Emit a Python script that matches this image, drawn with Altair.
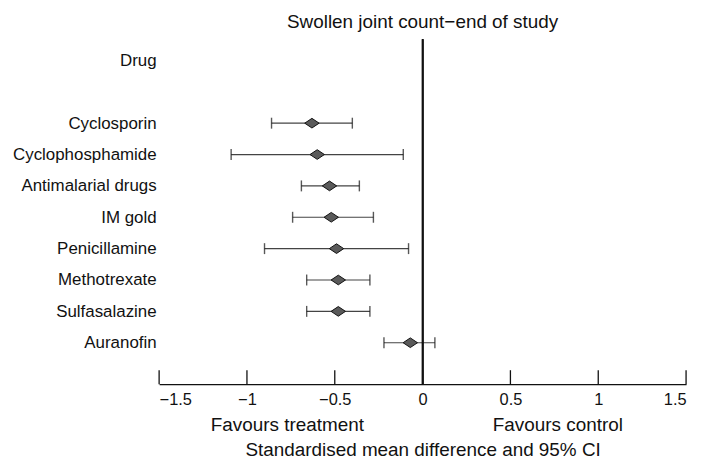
import altair as alt
import pandas as pd

# ---- data ----
drugs = ["Cyclosporin", "Cyclophosphamide", "Antimalarial drugs", "IM gold",
         "Penicillamine", "Methotrexate", "Sulfasalazine", "Auranofin"]
smd = [-0.63, -0.60, -0.53, -0.52, -0.49, -0.48, -0.48, -0.07]
ci_low = [-0.86, -1.09, -0.69, -0.74, -0.90, -0.66, -0.66, -0.22]
ci_high = [-0.40, -0.11, -0.36, -0.28, -0.08, -0.30, -0.30, 0.07]
header = "Drug"
spacer = " "
x_ticks = [-1.5, -1, -0.5, 0, 0.5, 1, 1.5]
favour_text = ["Favours treatment", "Favours control"]
favour_pos = [-0.77, 0.77]
chart_title = "Swollen joint count\u2212end of study"
x_title = "Standardised mean difference and 95% CI"

# ---- layout / style ----
W, H = 530, 347
FONT = "Liberation Sans"
INK = "#111111"

df = pd.DataFrame({"drug": drugs, "smd": smd, "lo": ci_low, "hi": ci_high})
ticks_df = pd.DataFrame({"t": x_ticks})
fav_df = pd.DataFrame({"label": favour_text, "pos": favour_pos})
row_domain = [header, spacer] + drugs

x_scale = alt.Scale(domain=[-1.5, 1.5], nice=False, zero=False)
y_scale = alt.Scale(type="point", domain=row_domain, padding=1.0, align=0.34)

x_axis = alt.Axis(values=x_ticks, format="~g", title=x_title, ticks=False, grid=False,
                  domainColor=INK, domainWidth=1.3, labelFont=FONT, labelFontSize=16.5,
                  labelColor=INK, labelPadding=7, titleFont=FONT, titleFontSize=19,
                  titleFontWeight="normal", titleColor=INK, titlePadding=33)
y_axis = alt.Axis(title=None, domain=False, ticks=False, grid=False, labelFont=FONT,
                  labelFontSize=17, labelColor=INK, labelPadding=3, labelAlign="right",
                  labelLimit=300)

y_enc = alt.Y("drug:N", scale=y_scale, axis=y_axis, sort=row_domain)

ci = alt.Chart(df).mark_rule(color="#444444", strokeWidth=1.2).encode(
    x=alt.X("lo:Q", scale=x_scale, axis=x_axis), x2="hi:Q", y=y_enc)

cap_lo = alt.Chart(df).mark_tick(size=11, thickness=1.4, color=INK).encode(
    x=alt.X("lo:Q", scale=x_scale, axis=x_axis), y=y_enc)
cap_hi = alt.Chart(df).mark_tick(size=11, thickness=1.4, color=INK).encode(
    x=alt.X("hi:Q", scale=x_scale, axis=x_axis), y=y_enc)

diamonds = alt.Chart(df).mark_point(
    shape="M-1,0L0,-0.67L1,0L0,0.67Z", size=210, filled=True, fill="#5a5a5a",
    stroke=INK, strokeWidth=1, opacity=1).encode(
    x=alt.X("smd:Q", scale=x_scale, axis=x_axis), y=y_enc)

zero_line = alt.Chart(df).mark_rule(color=INK, strokeWidth=1.3).encode(
    x=alt.XDatum(0, scale=x_scale, axis=x_axis))

axis_ticks = alt.Chart(ticks_df).mark_rule(color=INK, strokeWidth=1.3).encode(
    x=alt.X("t:Q", scale=x_scale, axis=x_axis),
    y=alt.value(H - 14), y2=alt.value(H))

favours = alt.Chart(fav_df).mark_text(font=FONT, fontSize=19, color=INK,
                                      align="center", baseline="middle").encode(
    x=alt.X("pos:Q", scale=x_scale, axis=x_axis),
    y=alt.value(H + 41), text="label:N")

chart = alt.layer(ci, cap_lo, cap_hi, diamonds, zero_line, axis_ticks, favours).properties(
    width=W, height=H,
    title=alt.TitleParams(chart_title, font=FONT, fontSize=19, fontWeight="normal",
                          color=INK, anchor="middle", offset=-8, baseline="alphabetic"),
    autosize=alt.AutoSizeParams(type="none"),
    padding={"left": 152, "top": 30, "right": 12, "bottom": 74},
).configure_view(stroke=None)

chart.save("out.html", embed_options={"renderer": "svg", "actions": False})
